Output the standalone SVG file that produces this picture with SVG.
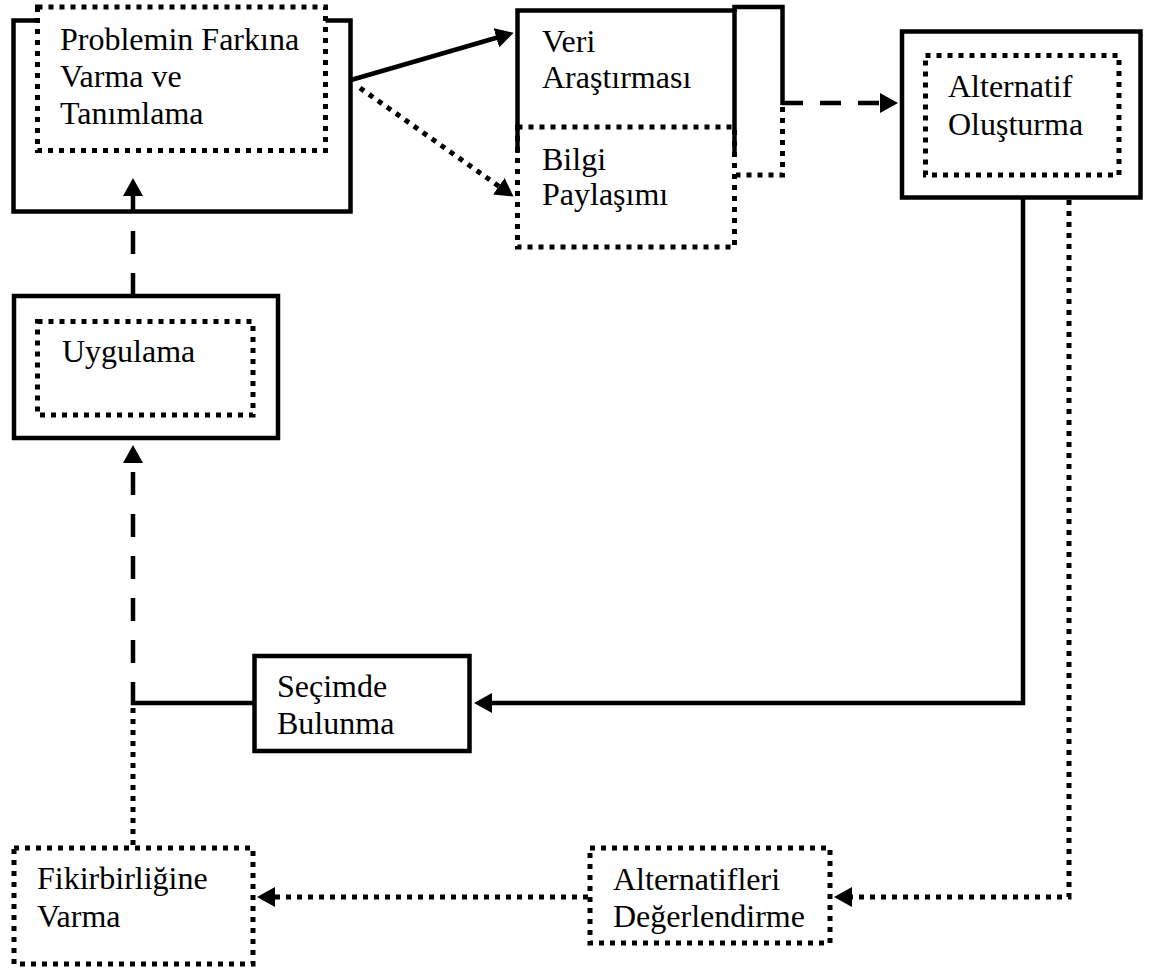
<svg xmlns="http://www.w3.org/2000/svg" width="1149" height="974" viewBox="0 0 1149 974">
<defs>
<style>
.solid{fill:none;stroke:#000;stroke-width:4.5}
.box{fill:#fff;stroke:#000;stroke-width:4.5}
.dot{fill:none;stroke:#000;stroke-width:5;stroke-dasharray:5 6}
.dotbox{fill:#fff;stroke:#000;stroke-width:5;stroke-dasharray:5 6}
.dash{fill:none;stroke:#000;stroke-width:4.5;stroke-dasharray:23 19}
.dashh{fill:none;stroke:#000;stroke-width:4.5;stroke-dasharray:21 17}
text{font-family:"Liberation Serif","Times New Roman",serif;font-size:32px;fill:#000}
</style>
<marker id="arr" markerUnits="userSpaceOnUse" markerWidth="18" markerHeight="20" viewBox="0 0 18 20" refX="10" refY="10" orient="auto">
<path d="M0,0 L18,10 L0,20 z" fill="#000"/>
</marker>
</defs>
<rect width="1149" height="974" fill="#fff"/>

<g id="node-problemin">
<rect class="box" x="13.5" y="20.5" width="337" height="191"/>
<rect class="dotbox" x="37.5" y="7" width="288" height="143.5"/>
<text x="60" y="50">Problemin Farkına</text>
<text x="60" y="87">Varma ve</text>
<text x="60" y="124">Tanımlama</text>
</g>

<g id="node-veri">
<path class="solid" d="M517.5,153 V10.5 H734.5 V153"/>
<text x="542" y="52">Veri</text>
<text x="542" y="88">Araştırması</text>
</g>

<g id="node-bilgi">
<rect class="dotbox" x="517.5" y="127" width="217" height="120" style="fill:none"/>
<text x="542" y="170">Bilgi</text>
<text x="542" y="205">Paylaşımı</text>
</g>

<g id="node-bracket">
<path class="solid" d="M734.5,12 V7 H782.5 V105"/>
<path class="dot" d="M782.5,107 V175 H736"/>
</g>

<g id="node-alternatif">
<rect class="box" x="902" y="31.5" width="238.5" height="166"/>
<rect class="dotbox" x="925.5" y="55.5" width="193.5" height="119.5"/>
<text x="948" y="97">Alternatif</text>
<text x="948" y="135">Oluşturma</text>
</g>

<g id="node-uygulama">
<rect class="box" x="14" y="296" width="264" height="142"/>
<rect class="dotbox" x="37.5" y="321.5" width="215.5" height="93.5"/>
<text x="62" y="362">Uygulama</text>
</g>

<g id="node-secimde">
<rect class="box" x="254.5" y="656" width="215" height="95"/>
<text x="277" y="697">Seçimde</text>
<text x="277" y="734">Bulunma</text>
</g>

<g id="node-fikir">
<rect class="dotbox" x="14" y="848" width="239" height="116"/>
<text x="37" y="889">Fikirbirliğine</text>
<text x="37" y="927">Varma</text>
</g>

<g id="node-degerlendirme">
<rect class="dotbox" x="590" y="848" width="240" height="95"/>
<text x="613" y="890">Alternatifleri</text>
<text x="613" y="927">Değerlendirme</text>
</g>

<g id="connectors">
<path class="solid" d="M351,80 L506,35" marker-end="url(#arr)"/>
<path class="dot" d="M360,88 L507,192" marker-end="url(#arr)"/>
<path class="dashh" d="M782,103 H890" marker-end="url(#arr)"/>
<path class="dash" d="M133,296 V211"/>
<path class="solid" d="M133,213 V186" marker-end="url(#arr)"/>
<path class="solid" d="M1023,198 V703 H482" marker-end="url(#arr)"/>
<path class="solid" d="M131,703 H254"/>
<path class="dash" d="M133,705 V451"/>
<path class="solid" d="M133,459 V453" marker-end="url(#arr)"/>
<path class="dot" d="M133,708 V846"/>
<path class="dot" d="M1069,200 V897 H842" marker-end="url(#arr)"/>
<path class="dot" d="M588,897 H265" marker-end="url(#arr)"/>
</g>
</svg>
